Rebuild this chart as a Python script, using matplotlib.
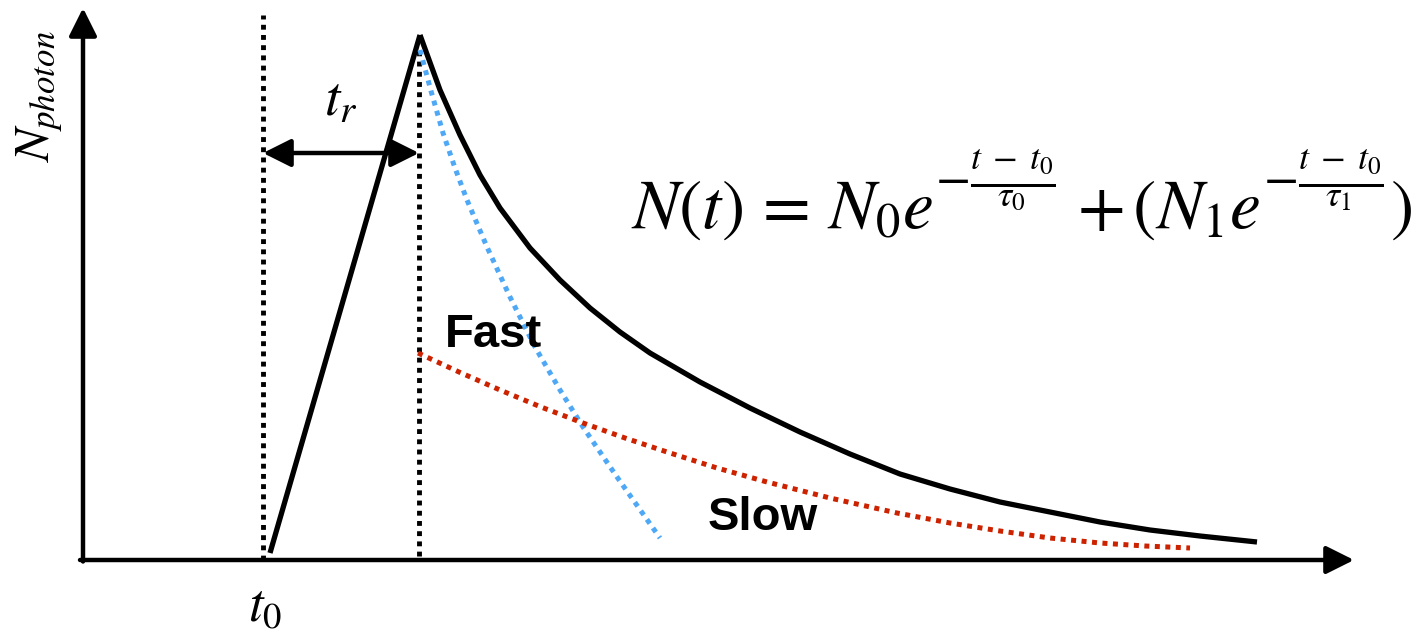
import matplotlib
matplotlib.use("Agg")
import matplotlib.pyplot as plt

plt.rcParams['mathtext.fontset'] = 'stix'
plt.rcParams['font.family'] = ['Liberation Sans', 'DejaVu Sans']

# schematic scintillation pulse (t, N in arbitrary units)
rise_t = [3.74, 6.74]
rise_n = [0.14, 10.50]

decay_t = [6.74, 7.14, 7.54, 7.94, 8.34, 8.94, 9.54, 10.14, 10.74, 11.34, 12.34,
           13.34, 14.34, 15.34, 16.34, 17.34, 18.34, 19.34, 20.34, 21.34, 22.34, 23.48]
decay_n = [10.50, 9.40, 8.50, 7.70, 7.04, 6.24, 5.60, 5.04, 4.56, 4.14, 3.56,
           3.04, 2.56, 2.12, 1.72, 1.42, 1.16, 0.96, 0.76, 0.60, 0.48, 0.36]

fast_t = [6.74, 6.96, 7.20, 7.44, 7.68, 8.08, 8.54, 9.04, 9.54, 10.00, 10.68, 11.54]
fast_n = [10.20, 9.38, 8.54, 7.84, 7.20, 6.26, 5.26, 4.26, 3.40, 2.66, 1.66, 0.44]

slow_t = [6.70, 7.52, 8.34, 9.16, 10.00, 10.84, 11.68, 12.68, 13.68, 14.94, 16.28,
          17.34, 18.34, 19.34, 20.34, 21.24, 22.14]
slow_n = [4.14, 3.76, 3.40, 3.06, 2.74, 2.44, 2.16, 1.84, 1.56, 1.24, 0.94,
          0.74, 0.58, 0.44, 0.34, 0.28, 0.24]

t0 = 3.60
t_peak = 6.72
t_max = 25.42
n_max = 11.04

fig = plt.figure(figsize=(14.16, 6.36), dpi=100)
ax = fig.add_axes([0, 0, 1, 1])
ax.set_xlim(-1.66, 26.66)
ax.set_ylim(-1.52, 11.2)
ax.axis('off')

# axes with arrow heads
head = matplotlib.patches.ArrowStyle('-|>', head_length=0.5, head_width=0.25)
ax.annotate('', xy=(t_max, 0), xytext=(-0.06, 0),
            arrowprops=dict(arrowstyle=head, lw=3.2, color='black', mutation_scale=34,
                            shrinkA=0, shrinkB=0))
ax.annotate('', xy=(0, n_max), xytext=(0, -0.03),
            arrowprops=dict(arrowstyle=head, lw=3.2, color='black', mutation_scale=34,
                            shrinkA=0, shrinkB=0))

# dotted guides
ax.plot([t0, t0], [0, 10.9], color='black', lw=3.5, dashes=(1, 1.1), dash_capstyle='butt')
ax.plot([t_peak, t_peak], [0.08, 10.2], color='black', lw=3.5, dashes=(1, 1.1), dash_capstyle='butt')

# rise time arrow
dbl = matplotlib.patches.ArrowStyle('<|-|>', head_length=0.5, head_width=0.25)
ax.annotate('', xy=(t_peak, 8.14), xytext=(t0, 8.14),
            arrowprops=dict(arrowstyle=dbl, lw=3.2, color='black', mutation_scale=34,
                            shrinkA=0, shrinkB=0))

# pulse
ax.plot(rise_t, rise_n, color='black', lw=3.8, solid_capstyle='butt')
ax.plot(decay_t, decay_n, color='black', lw=3.8, solid_capstyle='butt', solid_joinstyle='round')
ax.plot(fast_t, fast_n, color='#4fa8f5', lw=3.6, dashes=(1, 1.1), dash_capstyle='butt')
ax.plot(slow_t, slow_n, color='#cc2200', lw=3.6, dashes=(1, 1.1), dash_capstyle='butt')

# labels
ax.text(-0.86, 9.26, r'$N_{photon}$', rotation=90, fontsize=36, ha='center', va='center')
ax.text(5.16, 9.16, r'$t_r$', fontsize=40, ha='center', va='center')
ax.text(3.64, -0.94, r'$t_0$', fontsize=38, ha='center', va='center')

# formula, built from pieces so the exponents sit high like in the original
ax.text(10.96, 6.64, r'$N(t)\,=\,N_0e$', fontsize=50, ha='left', va='baseline')
ax.text(17.04, 7.6, r'$-\frac{t\;-\;t_0}{\tau_0}$', fontsize=37, ha='left', va='center')
ax.text(19.88, 6.64, r'$+\,(N_1e$', fontsize=50, ha='left', va='baseline')
ax.text(23.6, 7.6, r'$-\frac{t\;-\;t_0}{\tau_1}$', fontsize=37, ha='left', va='center')
ax.text(26.14, 6.64, r'$)$', fontsize=50, ha='left', va='baseline')

ax.text(7.24, 4.26, 'Fast', fontsize=34, fontweight='bold', ha='left', va='baseline')
ax.text(12.5, 0.6, 'Slow', fontsize=34, fontweight='bold', ha='left', va='baseline')

fig.savefig('out.png', dpi=100)
